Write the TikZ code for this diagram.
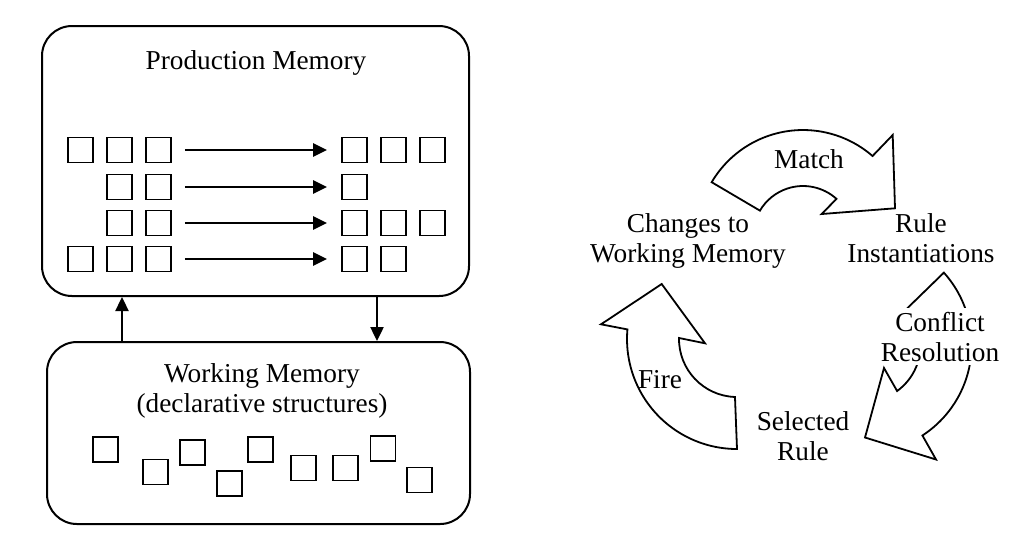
\documentclass[tikz,border=0pt]{standalone}
\usepackage{fontspec}
\setmainfont{Liberation Serif}
\usepackage{tikz}
\usetikzlibrary{arrows.meta,positioning,calc}

\begin{document}
\begin{tikzpicture}[
        x=0.5pt, y=-0.5pt,
        font=\fontsize{13.65pt}{15pt}\selectfont,
        memory/.style={draw, rectangle, rounded corners=15pt, line width=1pt},
        sq/.style={draw, rectangle, minimum size=12.5pt, inner sep=0pt, line width=0.9pt},
        arrow/.style={-{Triangle[length=7pt, width=6.5pt]}, line width=1.2pt},
        bent/.style={draw, fill=white, line width=0.9pt, line join=miter},
        lbl/.style={align=center, inner sep=2pt}
    ]
    \useasboundingbox (0,0) rectangle (1032,543);

    % the two memories
    \node[memory, minimum width=213.5pt, minimum height=135pt] (pm) at (255.5,161) {};
    \node[memory, minimum width=211.5pt, minimum height=91pt] (wm) at (258.5,433) {};
    \node[anchor=base] (pmtitle) at (256,69) {Production Memory};
    \node[lbl] (wmtitle) at (262,391) {Working Memory\\(declarative structures)};

    % productions: conditions -> actions
    \foreach \r/\y/\lf/\rt in {1/150/1/3, 2/187/2/1, 3/223/2/3, 4/259/1/2} {
        \foreach \c in {\lf,...,3}
            \node[sq] (l\r-\c) at ({41.5+39*\c},\y) {};
        \foreach \c in {1,...,\rt}
            \node[sq] (r\r-\c) at ({315.5+39*\c},\y) {};
        \draw[arrow, shorten <=6.5pt, shorten >=7pt] (l\r-3) -- (r\r-1);
    }

    % working memory elements
    \foreach \x/\y [count=\i] in {105.5/449.5, 155.5/472, 192.5/452.5, 229.5/483.5,
            260.5/449.5, 303.5/468, 345.5/468, 383/448.5, 419.5/480}
        \node[sq] (w\i) at (\x,\y) {};

    \coordinate (upx) at (122,320);
    \coordinate (downx) at (377,320);
    \draw[arrow] (wm.north -| upx) -- (pm.south -| upx);
    \draw[arrow] (pm.south -| downx) -- (wm.north -| downx);

    % recognize-act cycle
    \coordinate (c1) at (803,236);
    \coordinate (c2) at (737,339);
    \coordinate (c3) at (863.6,344.9);

    \path[bent] ($(c1)+(210.5:106)$) arc[start angle=210.5, end angle=311, radius=106]
        -- (892.7,135) -- (895,208.3) -- (821.7,214)
        -- ($(c1)+(312:50)$) arc[start angle=312, end angle=210.5, radius=50] -- cycle;
    \path[bent] ($(c2)+(90:110)$) arc[start angle=90, end angle=185, radius=110]
        -- (601,324.3) -- (661.7,284) -- (705,343.3)
        -- ($(c2)+(181:58)$) arc[start angle=181, end angle=92, radius=58] -- cycle;
    \path[bent] ($(c3)+(-42:108)$) arc[start angle=-42, end angle=57, radius=108]
        -- (936,459.5) -- (865,437.5) -- (884,368)
        -- ($(c3)+(54:57)$) arc[start angle=54, end angle=-40, radius=57] -- cycle;

    \node[anchor=base] (match) at (809,168) {Match};
    \node[anchor=base] (fire) at (660,388) {Fire};
    \node[lbl] (changes) at (688,241) {Changes to\\Working Memory};
    \node[lbl] (inst) at (921,238) {Rule\\Instantiations};
    \node[lbl, fill=white] (conflict) at (940,336.7) {Conflict\\Resolution};
    \node[lbl] (selected) at (803,435.7) {Selected\\Rule};
\end{tikzpicture}
\end{document}
